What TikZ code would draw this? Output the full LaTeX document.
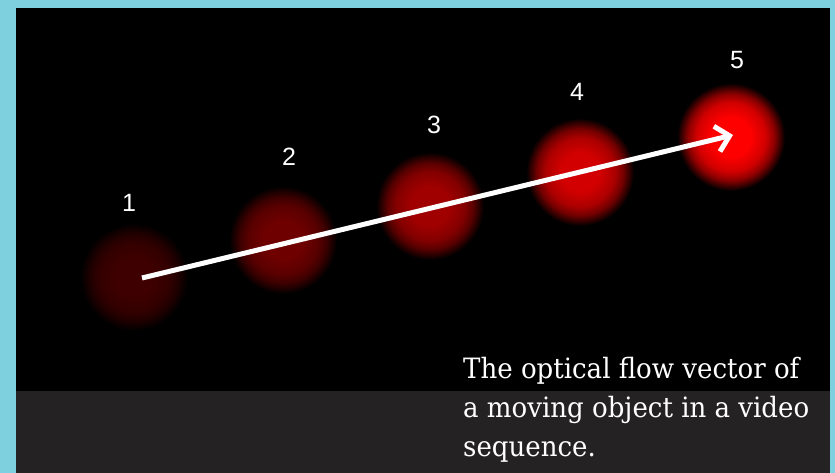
\documentclass[tikz,border=0pt]{standalone}
\usepackage{fontspec}
\setmainfont[FakeStretch=0.93]{DejaVu Serif}
\newfontfamily\labelfont{Liberation Sans}
\usetikzlibrary{arrows.meta}
\definecolor{frameblue}{HTML}{7ED0DE}
\definecolor{bandgray}{HTML}{252223}
\definecolor{cA}{RGB}{62,0,0}
\definecolor{cB}{RGB}{110,0,0}
\definecolor{cC}{RGB}{160,0,0}
\definecolor{cD}{RGB}{210,0,0}
\definecolor{cE}{RGB}{255,0,0}
\newcommand\blobshade[2]{\pgfdeclareradialshading{#1}{\pgfpoint{0bp}{0bp}}{color(0bp)=(#2); color(9bp)=(#2); color(16bp)=(#2!82!black); color(20bp)=(#2!55!black); color(23bp)=(#2!22!black); color(25bp)=(black); color(50bp)=(black)}}
\blobshade{shA}{cA}
\blobshade{shB}{cB}
\blobshade{shC}{cC}
\blobshade{shD}{cD}
\blobshade{shE}{cE}
\tikzset{
  blob/.style={circle, inner sep=0pt, minimum size=108pt, shading=#1},
  numlabel/.style={inner sep=0pt, text=white, font=\labelfont\fontsize{25}{25}\selectfont},
  caption/.style={anchor=base west, inner sep=0pt, text=white, font=\fontsize{28}{39}\selectfont},
  flowarrow/.style={draw=white, line width=5pt, -{Straight Barb[length=13pt,width=26pt]}}
}
\begin{document}
\begin{tikzpicture}[x=1pt,y=-1pt]
\fill[frameblue] (0,0) rectangle (835,473);
\fill[black] (16,8) rectangle (830,391);
\fill[bandgray] (16,391) rectangle (830,473);
\useasboundingbox (0,0) rectangle (835,473);
\node[blob=shA] (c1) at (134,277) {};
\node[blob=shB] (c2) at (283,240) {};
\node[blob=shC] (c3) at (430,206) {};
\node[blob=shD] (c4) at (580,172) {};
\node[blob=shE] (c5) at (731,137) {};
\node[numlabel] (l1) at (129,203) {1};
\node[numlabel] (l2) at (289,157) {2};
\node[numlabel] (l3) at (434,125) {3};
\node[numlabel] (l4) at (577,92) {4};
\node[numlabel] (l5) at (737,60) {5};
\coordinate (astart) at (142,278);
\coordinate (aend) at (733,135);
\draw[flowarrow] (astart) -- (aend);
\node[caption] (t1) at (463,378) {The optical flow vector of};
\node[caption] (t2) at (463,417) {a moving object in a video};
\node[caption] (t3) at (463,456) {sequence.};
\end{tikzpicture}
\end{document}
